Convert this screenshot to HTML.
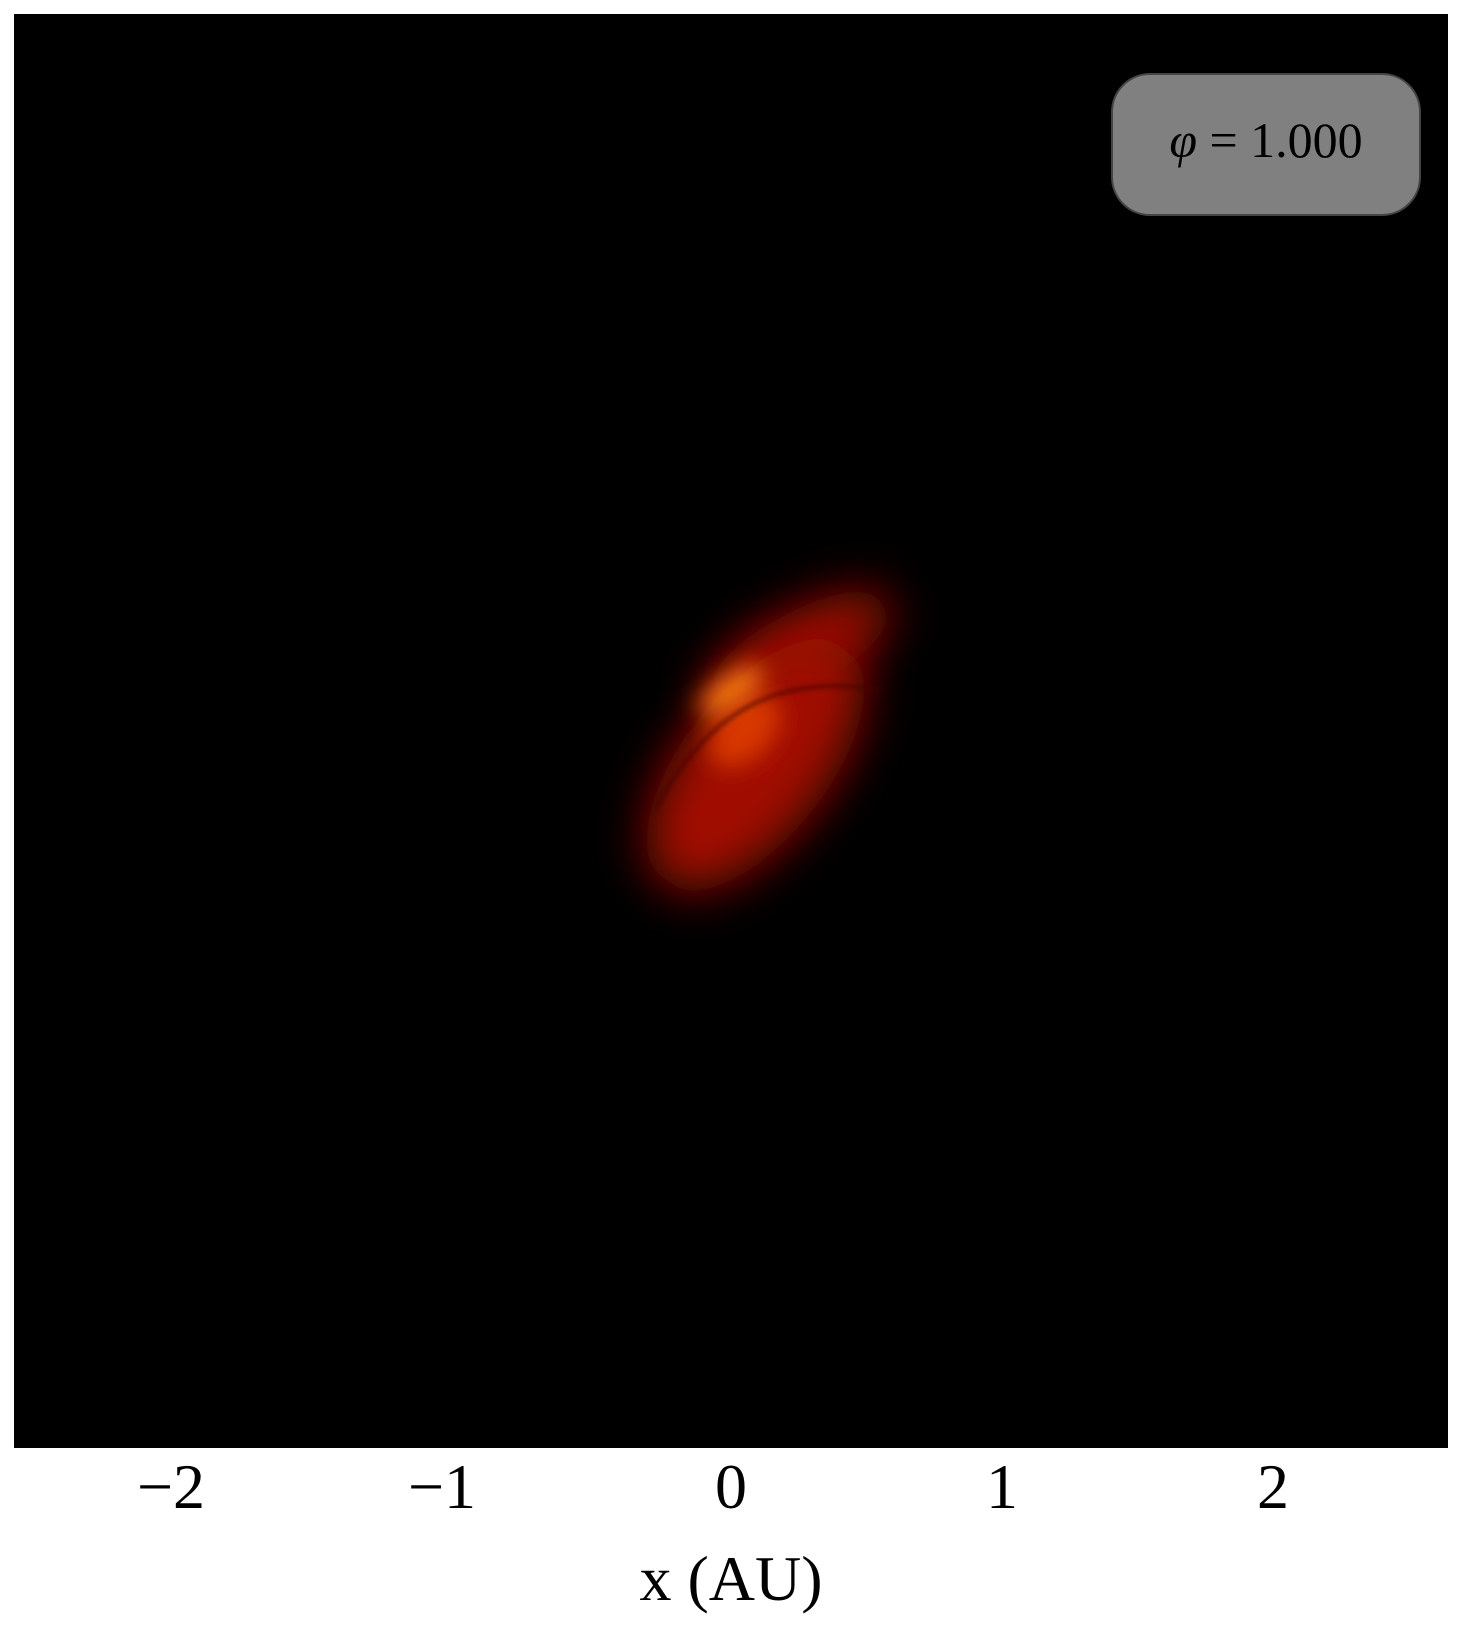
<!DOCTYPE html>
<html><head><meta charset="utf-8"><style>
html,body{margin:0;padding:0;background:#fff;}
svg text{font-family:"Liberation Serif",serif;}
</style></head><body>
<svg id="chart" width="1462" height="1634" viewBox="0 0 1462 1634" xmlns="http://www.w3.org/2000/svg">
<defs>
<filter id="b1" x="-100%" y="-100%" width="300%" height="300%"><feGaussianBlur stdDeviation="24"/></filter>
<filter id="b2" x="-100%" y="-100%" width="300%" height="300%"><feGaussianBlur stdDeviation="12"/></filter>
<filter id="b3" x="-50%" y="-50%" width="200%" height="200%"><feGaussianBlur stdDeviation="2"/></filter>
<clipPath id="pc"><rect x="14" y="14" width="1434" height="1434"/></clipPath>
</defs>
<rect x="14" y="14" width="1434" height="1434" fill="#000"/>
<g id="marks" clip-path="url(#pc)"></g>
<g>
<rect x="1112" y="74" width="308" height="141" rx="38" fill="#808080" stroke="#444" stroke-width="2"/>
<text x="1266" y="157" font-size="50" text-anchor="middle" fill="#000"><tspan font-style="italic">φ</tspan> = 1.000</text>
</g>
<g id="xticks"></g>
<text x="731" y="1600" font-size="64" text-anchor="middle">x (AU)</text>
</svg>
<script>
// x-axis tick values
const tickValues = [-2, -1, 0, 1, 2];
const tickLabels = ["\u22122", "\u22121", "0", "1", "2"];
// emission components (AU): centers, radii, rotation, color
const compX = [0.255, 0.09, 0.05, 0.0];
const compY = [0.30, -0.125, 0.0, 0.15];
const compRx = [0.38, 0.55, 0.16, 0.14];
const compRy = [0.14, 0.27, 0.10, 0.05];
const compRot = [-28, -52, -45, -35];
const compColor = ["#9a0a00", "#a01000", "#d83800", "#ff8018"];
const compBlur = ["b1", "b1", "b2", "b2"];
// dark arc (AU)
const arcX = [-0.28, -0.10, 0.15, 0.55];
const arcY = [-0.29, 0.05, 0.22, 0.15];

const ns = "http://www.w3.org/2000/svg";
const cx = 731, cy = 731, scale = 271;
const X = v => cx + v * scale;
const Y = v => cy - v * scale;

const marks = document.getElementById("marks");
for (let i = 0; i < compX.length; i++) {
  const e = document.createElementNS(ns, "ellipse");
  
  
  const px = X(compX[i]), py = Y(compY[i]);
  e.setAttribute("cx", px); e.setAttribute("cy", py);
  e.setAttribute("rx", compRx[i] * scale); e.setAttribute("ry", compRy[i] * scale);
  e.setAttribute("transform", `rotate(${compRot[i]} ${px} ${py})`);
  e.setAttribute("fill", compColor[i]);
  e.setAttribute("filter", `url(#${compBlur[i]})`);
  marks.appendChild(e);
}
const arc = document.createElementNS(ns, "path");


arc.setAttribute("d", `M${X(arcX[0])},${Y(arcY[0])} C${X(arcX[1])},${Y(arcY[1])} ${X(arcX[2])},${Y(arcY[2])} ${X(arcX[3])},${Y(arcY[3])}`);
arc.setAttribute("fill", "none");
arc.setAttribute("stroke", "#400000");
arc.setAttribute("stroke-opacity", "0.5");
arc.setAttribute("stroke-width", "5");
arc.setAttribute("filter", "url(#b3)");
marks.appendChild(arc);

const xt = document.getElementById("xticks");
for (let i = 0; i < tickValues.length; i++) {
  const t = document.createElementNS(ns, "text");
  
  
  t.setAttribute("x", X(tickValues[i]) - (tickValues[i] < 0 ? 18 : 0));
  t.setAttribute("y", 1508);
  t.setAttribute("font-size", "64");
  t.setAttribute("text-anchor", "middle");
  t.textContent = tickLabels[i];
  xt.appendChild(t);
}
</script>
</body></html>
